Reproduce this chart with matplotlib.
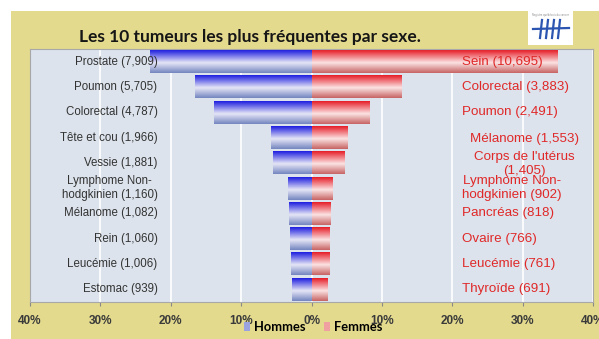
import numpy as np
import matplotlib
matplotlib.use("Agg")
import matplotlib.pyplot as plt
from matplotlib.patches import Patch, Rectangle
from matplotlib.lines import Line2D

# Men: top 10 sites with case counts
men_sites = ["Prostate", "Poumon", "Colorectal", "Tête et cou", "Vessie",
             "Lymphome Non-\nhodgkinien", "Mélanome", "Rein", "Leucémie", "Estomac"]
men_counts = [7909, 5705, 4787, 1966, 1881, 1160, 1082, 1060, 1006, 939]
men_total = 34400

# Women: top 10 sites with case counts
women_sites = ["Sein", "Colorectal", "Poumon", "Mélanome", "Corps de l'utérus\n",
               "Lymphome Non-\nhodgkinien", "Pancréas", "Ovaire", "Leucémie", "Thyroïde"]
women_counts = [10695, 3883, 2491, 1553, 1405, 902, 818, 766, 761, 691]
women_total = 30700

ticks = [-40, -30, -20, -10, 0, 10, 20, 30, 40]
tick_labels = ["40%", "30%", "20%", "10%", "0%", "10%", "20%", "30%", "40%"]

men_pct = [100 * c / men_total for c in men_counts]
women_pct = [100 * c / women_total for c in women_counts]

BG = "#e3da8e"
PLOT_BG = "#dce3ec"
MEN_TXT = "#333333"
WOMEN_TXT = "#e02828"


def gradient(top, mid, bottom, n=64):
    top, mid, bottom = (np.array(matplotlib.colors.to_rgb(c)) for c in (top, mid, bottom))
    t = np.linspace(0, 1, n)[:, None]
    first = top + (mid - top) * np.clip(t / 0.55, 0, 1)
    second = mid + (bottom - mid) * np.clip((t - 0.55) / 0.45, 0, 1)
    g = np.where(t < 0.55, first, second)
    return g[:, None, :]


blue_grad = gradient("#1e1ee0", "#e6e6f6", "#7486c0")
red_grad = gradient("#e61e28", "#fbe3e3", "#c86464")

fig = plt.figure(figsize=(5.99, 3.39), dpi=100)
fig.patch.set_facecolor("white")
fig.patches.append(Rectangle((11 / 599, 0), 1, 1 - 11 / 339, transform=fig.transFigure,
                             facecolor=BG, edgecolor="none", zorder=-5))

ax = fig.add_axes([30 / 599, 37 / 339, 563 / 599, 253 / 339])
ax.set_facecolor(PLOT_BG)

y = np.arange(len(men_counts))
h = 0.9
men_bars = ax.barh(y, [-v for v in men_pct], height=h, color="none", zorder=2)
women_bars = ax.barh(y, women_pct, height=h, color="none", zorder=2)

# fill each bar with a vertical gradient
for bars, grad in ((men_bars, blue_grad), (women_bars, red_grad)):
    for b in bars:
        x0, x1 = sorted([b.get_x(), b.get_x() + b.get_width()])
        y0 = b.get_y()
        ax.imshow(grad, extent=[x0, x1, y0 + b.get_height(), y0], aspect="auto",
                  interpolation="bilinear", zorder=2)

ax.set_xlim(-40, 40)
ax.set_ylim(len(y) - 0.5, -0.5)
ax.set_xticks(ticks)
ax.set_xticklabels(tick_labels, fontsize=8.5, fontweight="bold", color="#3a3a3a",
                   family="Liberation Sans")
ax.tick_params(axis="x", length=3, color="#888888", pad=6)
ax.set_yticks([])
ax.grid(axis="x", color="white", linewidth=1.2, zorder=1)
ax.set_axisbelow(True)
for s in ax.spines.values():
    s.set_color("#a8a8a8")
    s.set_linewidth(0.8)

# category labels
for i, (name, n) in enumerate(zip(men_sites, men_counts)):
    ax.text(-21.9, i, f"{name} ({n:,})", ha="right", va="center", multialignment="center",
            fontsize=8.3, linespacing=1.15, color=MEN_TXT, family="Liberation Sans", zorder=4)

for i, (name, n) in enumerate(zip(women_sites, women_counts)):
    label = f"{name}({n:,})" if name.endswith("\n") else f"{name} ({n:,})"
    style = dict(va="center", multialignment="center", fontsize=9.6, linespacing=1.2,
                 color=WOMEN_TXT, family="Liberation Sans", zorder=4)
    if name.endswith("\n") or name == "Mélanome":
        ax.text(30.3, i + 0.05, label, ha="center", **style)
    else:
        ax.text(21.4, i, label, ha="left", **style)

fig.text(250 / 599, 1 - 37 / 339, "Les 10 tumeurs les plus fréquentes par sexe.",
         ha="center", va="center", fontsize=12.5, fontweight="bold", color="#161616",
         family="Lato", zorder=-1)

# legend
handles = [Patch(facecolor="#9aa2e0", edgecolor="none", label="Hommes"),
           Patch(facecolor="#f0a0a0", edgecolor="none", label="Femmes")]
fig.legend(handles=handles, loc="center", bbox_to_anchor=(313 / 599, 12 / 339), ncol=2,
           frameon=False, handlelength=0.5, handleheight=0.6, handletextpad=0.3,
           columnspacing=1.4, prop={"family": "Lato", "weight": "bold", "size": 9.3})

# small logo in the top right corner
fig.patches.append(Rectangle((528 / 599, 1 - 45 / 339), 45 / 599, 34 / 339,
                             transform=fig.transFigure, facecolor="white",
                             edgecolor="none", zorder=1))
fig.text(550 / 599, 1 - 15 / 339, "Registre québécois du cancer", ha="center", va="center",
         fontsize=1.8, color="#888888")
logo_lines = [((533, 569), (29, 28))]
for xs in (541, 547, 553, 559):
    logo_lines.append(((xs + 1, xs - 1), (20, 38)))
for xs, ys in logo_lines:
    fig.lines.append(Line2D([v / 599 for v in xs], [1 - v / 339 for v in ys],
                            transform=fig.transFigure, color="#2b55b0", linewidth=1.6))

fig.savefig("out.png", dpi=100, facecolor=fig.get_facecolor())
